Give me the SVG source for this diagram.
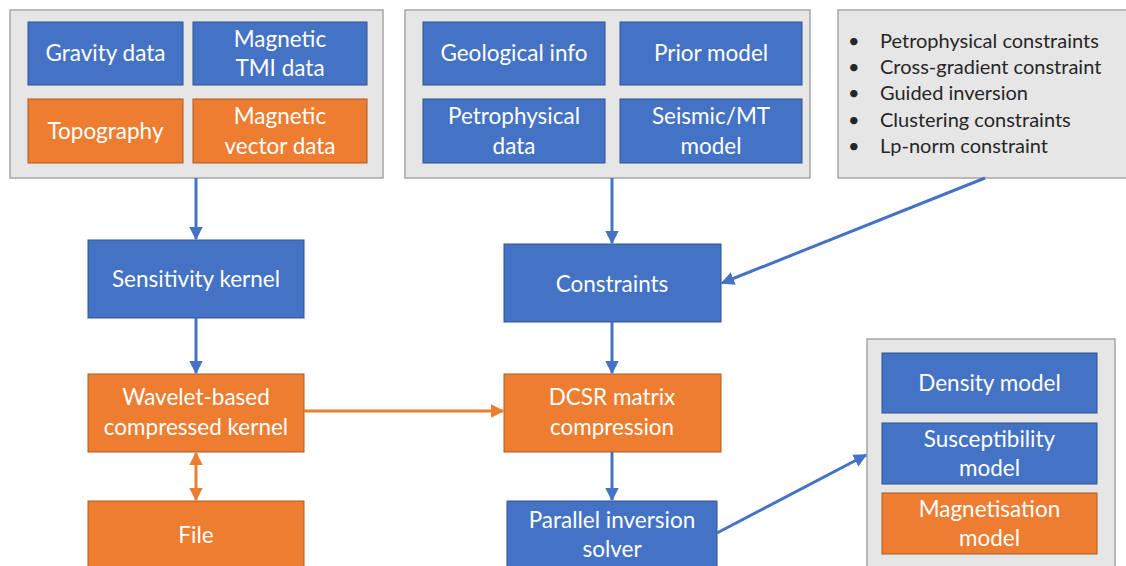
<svg xmlns="http://www.w3.org/2000/svg" width="1126" height="566" viewBox="0 0 1126 566">
<style>
.panel{fill:#E7E6E6;stroke:#A6A6A6;stroke-width:1.5}
.blue{fill:#4472C4;stroke:#2F528F;stroke-width:1}
.orange{fill:#ED7D31;stroke:#AE5A21;stroke-width:1}
.t{font-family:Lato,"Liberation Sans",sans-serif;font-size:22.5px;fill:#FFFFFF;text-anchor:middle}
.li{font-family:Lato,"Liberation Sans",sans-serif;font-size:20px;fill:#262626}
.cb{stroke:#4472C4;stroke-width:3;fill:none}
.co{stroke:#ED7D31;stroke-width:3;fill:none}
</style>
<defs>
<marker id="ab" viewBox="0 0 10 10" refX="9" refY="5" markerWidth="4.5" markerHeight="4.5" orient="auto" markerUnits="strokeWidth"><path d="M0,0 L10,5 L0,10 z" fill="#4472C4"/></marker>
<marker id="ao" viewBox="0 0 10 10" refX="9" refY="5" markerWidth="4.5" markerHeight="4.5" orient="auto-start-reverse" markerUnits="strokeWidth"><path d="M0,0 L10,5 L0,10 z" fill="#ED7D31"/></marker>
</defs>
<rect width="1126" height="566" fill="#FFFFFF"/>
<g id="inputs-panel">
<rect class="panel" x="10" y="10" width="373" height="168"/>
<g id="gravity"><rect class="blue" x="28" y="22" width="155" height="63"/><text class="t" x="105.5" y="61">Gravity data</text></g>
<g id="tmi"><rect class="blue" x="193" y="22" width="174" height="63"/><text class="t" x="280" y="47">Magnetic</text><text class="t" x="280" y="76">TMI data</text></g>
<g id="topography"><rect class="orange" x="28" y="99" width="155" height="64"/><text class="t" x="105.5" y="139">Topography</text></g>
<g id="magvector"><rect class="orange" x="193" y="99" width="174" height="64"/><text class="t" x="280" y="124">Magnetic</text><text class="t" x="280" y="154">vector data</text></g>
</g>
<g id="prior-panel">
<rect class="panel" x="405" y="10" width="405" height="168"/>
<g id="geological"><rect class="blue" x="423" y="22" width="182" height="63"/><text class="t" x="514" y="61">Geological info</text></g>
<g id="prior"><rect class="blue" x="620" y="22" width="182" height="63"/><text class="t" x="711" y="61">Prior model</text></g>
<g id="petro"><rect class="blue" x="423" y="99" width="182" height="64"/><text class="t" x="514" y="124">Petrophysical</text><text class="t" x="514" y="154">data</text></g>
<g id="seismic"><rect class="blue" x="620" y="99" width="182" height="64"/><text class="t" x="711" y="124">Seismic/MT</text><text class="t" x="711" y="154">model</text></g>
</g>
<g id="constraint-list">
<rect class="panel" x="838" y="10" width="290" height="168"/>
<g class="li">
<text x="848" y="48">•</text><text x="880" y="48">Petrophysical constraints</text>
<text x="848" y="74">•</text><text x="880" y="74">Cross-gradient constraint</text>
<text x="848" y="100">•</text><text x="880" y="100">Guided inversion</text>
<text x="848" y="127">•</text><text x="880" y="127">Clustering constraints</text>
<text x="848" y="153">•</text><text x="880" y="153">Lp-norm constraint</text>
</g>
</g>
<g id="sensitivity"><rect class="blue" x="88" y="240" width="216" height="78"/><text class="t" x="196" y="287">Sensitivity kernel</text></g>
<g id="wavelet"><rect class="orange" x="88" y="374" width="216" height="78"/><text class="t" x="196" y="405">Wavelet-based</text><text class="t" x="196" y="435">compressed kernel</text></g>
<g id="file"><rect class="orange" x="88" y="501" width="216" height="70"/><text class="t" x="196" y="543">File</text></g>
<g id="constraints"><rect class="blue" x="504" y="244" width="217" height="78"/><text class="t" x="612" y="292">Constraints</text></g>
<g id="dcsr"><rect class="orange" x="504" y="374" width="217" height="78"/><text class="t" x="612" y="405">DCSR matrix</text><text class="t" x="612" y="435">compression</text></g>
<g id="solver"><rect class="blue" x="507" y="501" width="210" height="70"/><text class="t" x="612" y="528">Parallel inversion</text><text class="t" x="612" y="557">solver</text></g>
<g id="outputs-panel">
<rect class="panel" x="867" y="339" width="248" height="235"/>
<g id="density"><rect class="blue" x="882" y="353" width="215" height="60"/><text class="t" x="989.5" y="391">Density model</text></g>
<g id="susceptibility"><rect class="blue" x="882" y="423" width="215" height="61"/><text class="t" x="989.5" y="447">Susceptibility</text><text class="t" x="989.5" y="476">model</text></g>
<g id="magnetisation"><rect class="orange" x="882" y="493" width="215" height="61"/><text class="t" x="989.5" y="517">Magnetisation</text><text class="t" x="989.5" y="546">model</text></g>
</g>
<g id="connectors">
<line class="cb" x1="196" y1="178" x2="196" y2="239" marker-end="url(#ab)"/>
<line class="cb" x1="196" y1="318" x2="196" y2="373" marker-end="url(#ab)"/>
<line class="co" x1="196" y1="453" x2="196" y2="500" marker-start="url(#ao)" marker-end="url(#ao)"/>
<line class="co" x1="304" y1="411" x2="503" y2="411" marker-end="url(#ao)"/>
<line class="cb" x1="612" y1="178" x2="612" y2="243" marker-end="url(#ab)"/>
<line class="cb" x1="985" y1="178" x2="722" y2="283" marker-end="url(#ab)"/>
<line class="cb" x1="612" y1="322" x2="612" y2="373" marker-end="url(#ab)"/>
<line class="cb" x1="612" y1="452" x2="612" y2="500" marker-end="url(#ab)"/>
<line class="cb" x1="717" y1="533" x2="866" y2="455" marker-end="url(#ab)"/>
</g>
</svg>
